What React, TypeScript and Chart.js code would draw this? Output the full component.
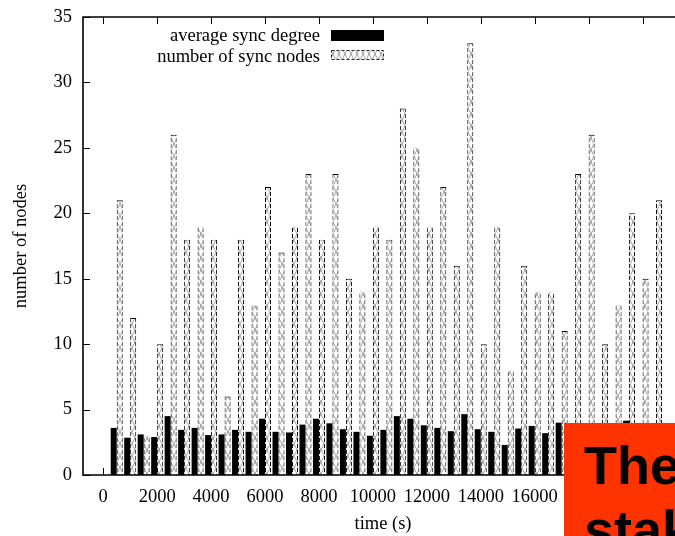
import { useEffect, useRef } from 'react';
import { Chart, registerables } from 'chart.js';

Chart.register(...registerables);

const times = [500, 1000, 1500, 2000, 2500, 3000, 3500, 4000, 4500, 5000, 5500, 6000, 6500, 7000, 7500, 8000, 8500, 9000, 9500, 10000, 10500, 11000, 11500, 12000, 12500, 13000, 13500, 14000, 14500, 15000, 15500, 16000, 16500, 17000, 17500, 18000, 18500, 19000, 19500, 20000, 20500];
const avgSyncDegree = [3.6, 2.85, 3.1, 2.9, 4.5, 3.45, 3.6, 3.05, 3.1, 3.45, 3.3, 4.3, 3.3, 3.25, 3.85, 4.3, 3.95, 3.5, 3.3, 3.0, 3.45, 4.5, 4.3, 3.8, 3.6, 3.35, 4.65, 3.5, 3.3, 2.3, 3.55, 3.75, 3.2, 4.0, 3.6, 3.8, 3.4, 3.7, 4.15, 3.5, 3.9];
const syncNodes = [21, 12, 3, 10, 26, 18, 19, 18, 6, 18, 13, 22, 17, 19, 23, 18, 23, 15, 14, 19, 18, 28, 25, 19, 22, 16, 33, 10, 19, 8, 16, 14, 14, 11, 23, 26, 10, 13, 20, 15, 21];
const xTickValues = [0, 2000, 4000, 6000, 8000, 10000, 12000, 14000, 16000, 18000, 20000];
const yTickValues = [0, 5, 10, 15, 20, 25, 30, 35];
const legendLabels = ['average sync degree', 'number of sync nodes'];
const xTitle = 'time (s)';
const yTitle = 'number of nodes';
const overlayLines = ['The', 'stake'];

const SERIF = '"Liberation Serif", "Times New Roman", serif';

function makeHatch(): CanvasPattern | string {
  const c = document.createElement('canvas');
  c.width = 6;
  c.height = 12;
  const g = c.getContext('2d');
  if (!g) return '#fff';
  g.fillStyle = '#fff';
  g.fillRect(0, 0, 6, 12);
  g.strokeStyle = 'rgba(30,30,30,0.6)';
  g.lineWidth = 0.7;
  g.beginPath();
  g.moveTo(0, 0);
  g.lineTo(6, 12);
  g.moveTo(6, 0);
  g.lineTo(0, 12);
  g.stroke();
  return g.createPattern(c, 'repeat') || '#fff';
}

function makeDash(): CanvasPattern | string {
  const c = document.createElement('canvas');
  c.width = 4;
  c.height = 6;
  const g = c.getContext('2d');
  if (!g) return '#222';
  g.fillStyle = '#000';
  g.fillRect(0, 0, 4, 4);
  g.fillStyle = '#e0e0e0';
  g.fillRect(0, 4, 4, 2);
  return g.createPattern(c, 'repeat') || '#222';
}

export default function App() {
  const ref = useRef<HTMLCanvasElement | null>(null);

  useEffect(() => {
    if (!ref.current) return;
    const hatch = makeHatch();
    const dash = makeDash();

    const framePlugin = {
      id: 'frame',
      beforeDatasetsDraw(chart: any) {
        const { ctx, chartArea: a, scales } = chart;
        const x = scales.x;
        const y = scales.y;
        ctx.save();
        ctx.strokeStyle = '#000';
        ctx.lineWidth = 1;
        ctx.beginPath();
        for (const v of xTickValues) {
          const px = Math.round(x.getPixelForValue(v)) + 0.5;
          ctx.moveTo(px, a.top);
          ctx.lineTo(px, a.top + 7);
          ctx.moveTo(px, a.bottom);
          ctx.lineTo(px, a.bottom - 7);
        }
        for (const v of yTickValues) {
          const py = Math.round(y.getPixelForValue(v)) + 0.5;
          ctx.moveTo(a.left, py);
          ctx.lineTo(a.left + 7, py);
        }
        ctx.stroke();
        ctx.restore();
      },
      afterDatasetsDraw(chart: any) {
        const { ctx, chartArea: a } = chart;
        ctx.save();
        ctx.strokeStyle = '#000';
        ctx.lineWidth = 1.6;
        ctx.beginPath();
        ctx.moveTo(a.right + 2, a.top);
        ctx.lineTo(a.left, a.top);
        ctx.lineTo(a.left, a.bottom);
        ctx.lineTo(a.right + 2, a.bottom);
        ctx.stroke();

        ctx.fillStyle = '#000';
        ctx.font = `18.5px ${SERIF}`;
        ctx.textAlign = 'right';
        ctx.textBaseline = 'alphabetic';
        ctx.fillText(legendLabels[0], 320, 41);
        ctx.fillText(legendLabels[1], 320, 61.5);
        ctx.fillStyle = '#000';
        ctx.fillRect(331, 30, 53, 11);
        ctx.fillStyle = hatch as any;
        ctx.fillRect(331, 50.5, 53, 9);
        ctx.strokeStyle = '#222';
        ctx.lineWidth = 1;
        ctx.setLineDash([3, 2]);
        ctx.strokeRect(331.5, 50.5, 52, 9);
        ctx.setLineDash([]);

        ctx.fillStyle = '#000';
        ctx.font = `18.5px ${SERIF}`;
        ctx.textAlign = 'center';
        ctx.textBaseline = 'alphabetic';
        ctx.fillText(xTitle, 383, 529);
        ctx.translate(26, (a.top + a.bottom) / 2);
        ctx.rotate(-Math.PI / 2);
        ctx.fillText(yTitle, 0, 0);
        ctx.restore();
      },
    };

    const chart = new Chart(ref.current, {
      type: 'bar',
      data: {
        datasets: [
          {
            label: legendLabels[0],
            data: times.map((t, i) => ({ x: t, y: avgSyncDegree[i] })),
            backgroundColor: '#000',
            borderWidth: 0,
            categoryPercentage: 0.89,
            barPercentage: 1,
          },
          {
            label: legendLabels[1],
            data: times.map((t, i) => ({ x: t, y: syncNodes[i] })),
            backgroundColor: hatch as any,
            borderColor: dash as any,
            borderWidth: 1,
            categoryPercentage: 0.89,
            barPercentage: 1,
          },
        ],
      },
      options: {
        responsive: false,
        animation: false,
        layout: { padding: { top: 17, left: 0, right: 0, bottom: 0 } },
        plugins: { legend: { display: false }, tooltip: { enabled: false } },
        scales: {
          x: {
            type: 'linear',
            min: -750,
            max: 21203,
            offset: false,
            grid: { display: false, drawTicks: false },
            border: { display: false },
            afterBuildTicks: (s: any) => {
              s.ticks = xTickValues.map((v) => ({ value: v }));
            },
            afterFit: (s: any) => {
              s.height = 61;
              s.paddingLeft = 0;
              s.paddingRight = 0;
            },
            ticks: {
              font: { family: SERIF, size: 18.5 },
              color: '#000',
              padding: 11,
              maxRotation: 0,
              autoSkip: false,
              callback: (v: any) => String(v),
            },
          },
          y: {
            min: 0,
            max: 35,
            grid: { display: false, drawTicks: false },
            border: { display: false },
            afterBuildTicks: (s: any) => {
              s.ticks = yTickValues.map((v) => ({ value: v }));
            },
            afterFit: (s: any) => {
              s.width = 83;
              s.paddingTop = 0;
              s.paddingBottom = 0;
            },
            ticks: {
              font: { family: SERIF, size: 18.5 },
              color: '#000',
              padding: 11,
              callback: (v: any) => String(v),
            },
          },
        },
      } as any,
      plugins: [framePlugin],
    });
    return () => chart.destroy();
  }, []);

  return (
    <div style={{ position: 'fixed', left: 0, top: 0, width: 675, height: 536, overflow: 'hidden', background: '#fff' }}>
      <canvas ref={ref} width={675} height={536} style={{ display: 'block' }} />
      <div
        style={{
          position: 'absolute',
          left: 564,
          top: 423,
          width: 111,
          height: 113,
          background: '#ff3300',
          overflow: 'hidden',
          fontFamily: '"Liberation Sans", Arial, sans-serif',
          fontWeight: 'bold',
          fontSize: 54,
          lineHeight: '54px',
          color: '#000',
          whiteSpace: 'nowrap',
        }}
      >
        <div style={{ position: 'absolute', left: 20, top: 15 }}>{overlayLines[0]}</div>
        <div style={{ position: 'absolute', left: 20, top: 79 }}>{overlayLines[1]}</div>
      </div>
    </div>
  );
}
